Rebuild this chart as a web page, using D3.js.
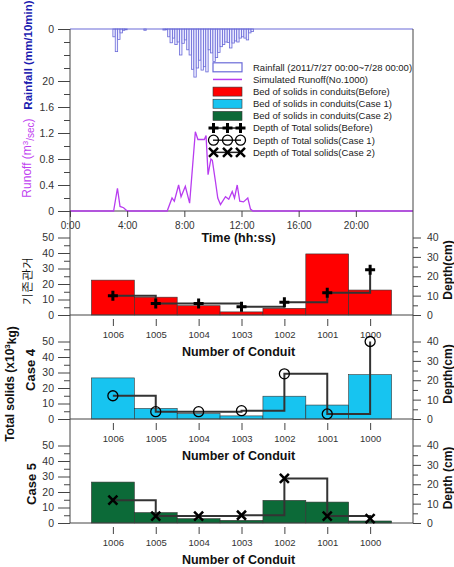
<!DOCTYPE html>
<html><head><meta charset="utf-8">
<script src="https://cdn.jsdelivr.net/npm/d3@7"></script>
<style>body{margin:0;background:#fff}svg{display:block}text{font-family:"Liberation Sans",Arial,sans-serif}</style>
</head><body><svg id="c" width="454" height="567"></svg>
<script>
// ---------- DATA ----------
const rainStartHour = 3; // first 10-min interval starts at 3:00
const rainfall = [3, 8.7, 4, 1.5, 0.5, 0.3, 0, 0, 0, 0, 0, 0, 0, 0.5, 0, 0, 0, 0, 0, 0, 0,
  0.4, 0.3, 3, 5.3, 3.5, 6, 5, 10, 5.5, 4.2, 8, 10, 15.5, 18.5, 15, 12, 15.8, 14.5, 16.5, 8, 9.2,
  12.5, 11, 9, 6.8, 6, 5, 5.2, 7.3, 5.4, 4.6, 5, 3.5, 3, 3.5, 4.2, 1.5, 1];
const runoffHours = [0, 3.05, 3.32, 3.5, 3.75, 4.0, 6.8, 7.14, 7.3, 7.6, 7.77, 8.07, 8.37, 8.77, 8.95, 9.4, 9.52,
  9.66, 9.86, 9.96, 10.18, 10.34, 10.53, 10.88, 11.11, 11.35, 11.51, 11.7, 11.88, 12.14, 12.44, 12.63, 12.8, 24];
const runoffValues = [0, 0, 0.35, 0.07, 0.05, 0, 0, 0.2, 0.15, 0.4, 0.22, 0.38, 0.12, 1.22, 1.1, 1.1, 1.16,
  0.56, 0.8, 0.78, 0.45, 0.2, 0.1, 0.22, 0.18, 0.3, 0.2, 0.4, 0.15, 0.14, 0.2, 0.03, 0, 0];
const timeTicks = [0, 4, 8, 12, 16, 20];
const timeTickLabels = ["0:00", "4:00", "8:00", "12:00", "16:00", "20:00"];

const categories = ["1006", "1005", "1004", "1003", "1002", "1001", "1000"];
const solidsBefore = [22.5, 11.5, 6, 2, 4.3, 39.4, 16.1];
const solidsCase4 = [26.5, 6.8, 3.5, 2, 14.7, 9, 28.6];
const solidsCase5 = [26.4, 6.7, 2.8, 1.7, 14.6, 13.5, 1.3];
const depthBefore = [10, 6, 6, 4.3, 6.6, 11.5, 23.3];
const depthCase4 = [12, 3.8, 3.8, 4.3, 23.3, 2.6, 40];
const depthCase5 = [11.8, 3.6, 3.6, 4, 23, 3.6, 2.3];

const legendLabels = ["Rainfall (2011/7/27 00:00~7/28 00:00)", "Simulated Runoff(No.1000)",
  "Bed of solids in conduits(Before)", "Bed of solids in conduits(Case 1)", "Bed of solids in conduits(Case 2)",
  "Depth of Total solids(Before)", "Depth of Total solids(Case 1)", "Depth of Total solids(Case 2)"];

// ---------- STYLE ----------
const AX = "#444";
const RAIN = "#6a6ad8", RUN = "#b83cf0";
const RED = "#ff0000", CYAN = "#17c4f0", GREEN = "#0c6a38";
const xL = 70, xR = 413;
const svg = d3.select("#c");
const FONT = '"Liberation Sans",Arial,sans-serif';

function styleAxis(g, size) {
  g.attr("font-family", FONT).attr("font-size", size).attr("color", AX);
  g.select(".domain").remove();
  g.selectAll("text").attr("fill", "#333");
}

// ---------- TOP CHART ----------
const xT = d3.scaleLinear([0, 24], [xL, xR]);
const yRain = d3.scaleLinear([0, 20], [29, 81]);
const yRun = d3.scaleLinear([0, 2], [211, 81]);

const rainData = rainfall.map((v, i) => ({ t: rainStartHour + i / 6, v })).filter(d => d.v > 0);
svg.append("g").selectAll("rect").data(rainData).join("rect")
  .attr("x", d => xT(d.t)).attr("width", xT(1 / 6) - xT(0))
  .attr("y", yRain(0)).attr("height", d => yRain(d.v) - yRain(0))
  .attr("fill", "#eeeeff").attr("stroke", RAIN).attr("stroke-width", 0.8);

// frame
svg.append("line").attr("x1", xL).attr("x2", xR).attr("y1", yRain(0)).attr("y2", yRain(0)).attr("stroke", RAIN).attr("stroke-width", 1.2);
svg.append("line").attr("x1", xL).attr("x2", xR).attr("y1", yRun(0)).attr("y2", yRun(0)).attr("stroke", AX);

// runoff line
const runData = runoffHours.map((h, i) => [h, runoffValues[i]]);
svg.append("path").datum(runData)
  .attr("d", d3.line().x(d => xT(d[0])).y(d => yRun(d[1])))
  .attr("fill", "none").attr("stroke", RUN).attr("stroke-width", 1.3);

// axes top
svg.append("g").attr("transform", `translate(${xL},0)`)
  .call(d3.axisLeft(yRain).tickValues([0, 20]).tickSize(12).tickPadding(4).tickFormat(d3.format("d")))
  .call(g => styleAxis(g, 10.5));
svg.append("g").attr("transform", `translate(${xL},0)`)
  .call(d3.axisLeft(yRain).tickValues([5, 10, 15]).tickSize(6).tickFormat(""))
  .call(g => styleAxis(g, 10.5));
svg.append("g").attr("transform", `translate(${xL},0)`)
  .call(d3.axisLeft(yRun).tickValues([0, 0.4, 0.8, 1.2, 1.6]).tickSize(12).tickPadding(4).tickFormat(d => d === 0 ? "0" : d3.format(".1f")(d)))
  .call(g => styleAxis(g, 10.5));
svg.append("g").attr("transform", `translate(${xL},0)`)
  .call(d3.axisLeft(yRun).tickValues([0.2, 0.6, 1.0, 1.4, 1.8]).tickSize(6).tickFormat(""))
  .call(g => styleAxis(g, 10.5));
svg.append("g").attr("transform", `translate(0,${yRun(0)})`)
  .call(d3.axisBottom(xT).tickValues(timeTicks).tickSize(6).tickPadding(5).tickFormat((d, i) => timeTickLabels[i]))
  .call(g => styleAxis(g, 10));

svg.append("text").attr("x", (xL + xR) / 2 - 3).attr("y", 238).attr("dy", "0.35em").attr("text-anchor", "middle")
  .attr("font-weight", "bold").attr("font-size", 12.5).attr("fill", "#111").text("Time (hh:ss)");

// titles top
svg.append("text").attr("transform", "translate(28,55) rotate(-90)").attr("text-anchor", "middle").attr("dy", "0.35em")
  .attr("font-weight", "bold").attr("font-size", 11.5).attr("fill", "#1c1cb0").text("Rainfall (mm/10min)");
const rt = svg.append("text").attr("transform", "translate(27,158) rotate(-90)").attr("text-anchor", "middle").attr("dy", "0.35em")
  .attr("font-size", 12).attr("fill", "#c040f0");
rt.append("tspan").text("Runoff (m");
rt.append("tspan").attr("font-size", 8).attr("dy", "-0.45em").text("3");
rt.append("tspan").attr("font-size", 10).attr("dy", "0.6em").text("/sec");
rt.append("tspan").attr("dy", "-0.15em").text(")");

// ---------- MARKERS ----------
function drawMarker(g, type, x, y) {
  if (type === "plus") {
    g.append("path").attr("d", `M${x - 5},${y}H${x + 5}M${x},${y - 5}V${y + 5}`).attr("stroke", "#000").attr("stroke-width", 3);
  } else if (type === "circle") {
    g.append("circle").attr("cx", x).attr("cy", y).attr("r", 5).attr("fill", "none").attr("stroke", "#000").attr("stroke-width", 1.3);
  } else {
    g.append("path").attr("d", `M${x - 4.5},${y - 4.5}L${x + 4.5},${y + 4.5}M${x - 4.5},${y + 4.5}L${x + 4.5},${y - 4.5}`).attr("stroke", "#000").attr("stroke-width", 2.5);
  }
}

// ---------- LEGEND ----------
const lg = svg.append("g");
const lx0 = 213, lx1 = 242, ltx = 253, ly0 = 67.3, lstep = 12.15;
legendLabels.forEach((t, i) => {
  const y = ly0 + i * lstep;
  if (i === 0) lg.append("rect").attr("x", lx0).attr("y", y - 4.5).attr("width", lx1 - lx0).attr("height", 9).attr("fill", "#fff").attr("stroke", RAIN).attr("stroke-width", 1.2);
  else if (i === 1) lg.append("line").attr("x1", lx0).attr("x2", lx1).attr("y1", y).attr("y2", y).attr("stroke", RUN).attr("stroke-width", 1.5);
  else if (i <= 4) lg.append("rect").attr("x", lx0).attr("y", y - 4.5).attr("width", lx1 - lx0).attr("height", 9)
    .attr("fill", [RED, CYAN, GREEN][i - 2]).attr("stroke", "#333").attr("stroke-width", 0.6);
  else {
    lg.append("line").attr("x1", lx0).attr("x2", lx1 - 1).attr("y1", y).attr("y2", y).attr("stroke", "#222").attr("stroke-width", 1.5);
    [lx0 + 0.5, (lx0 + lx1) / 2, lx1 - 1.5].forEach(mx => drawMarker(lg, ["plus", "circle", "cross"][i - 5], mx, y));
  }
  lg.append("text").attr("x", ltx).attr("y", y).attr("dy", "0.35em").attr("font-size", 9.5).attr("fill", "#222").text(t);
});

// ---------- PANELS ----------
const xC = d3.scalePoint(categories, [xL, xR]).padding(1);
const step = xC.step();
const panels = [
  { y0: 315, solids: solidsBefore, depth: depthBefore, color: RED, marker: "plus", dlabel: "Depth(cm)" },
  { y0: 419, solids: solidsCase4, depth: depthCase4, color: CYAN, marker: "circle", dlabel: "Depth(cm)" },
  { y0: 523, solids: solidsCase5, depth: depthCase5, color: GREEN, marker: "cross", dlabel: "Depth (cm)" }
];
const PH = 77.5;
panels.forEach(p => {
  const g = svg.append("g");
  const yS = d3.scaleLinear([0, 50], [p.y0, p.y0 - PH]);
  const yD = d3.scaleLinear([0, 40], [p.y0, p.y0 - PH]);
  g.selectAll("rect").data(p.solids).join("rect")
    .attr("x", (d, i) => xC(categories[i]) - step / 2).attr("width", step)
    .attr("y", d => yS(d)).attr("height", d => yS(0) - yS(d))
    .attr("fill", p.color).attr("stroke", "#333").attr("stroke-width", 0.6);
  g.append("line").attr("x1", xL).attr("x2", xR).attr("y1", p.y0).attr("y2", p.y0).attr("stroke", AX);
  g.append("g").attr("transform", `translate(${xL},0)`)
    .call(d3.axisLeft(yS).tickValues([0, 10, 20, 30, 40, 50]).tickSize(12).tickPadding(4))
    .call(a => styleAxis(a, 10.5));
  g.append("g").attr("transform", `translate(${xL},0)`)
    .call(d3.axisLeft(yS).tickValues([5, 15, 25, 35, 45]).tickSize(6).tickFormat(""))
    .call(a => styleAxis(a, 10.5));
  g.append("g").attr("transform", `translate(${xR},0)`)
    .call(d3.axisRight(yD).tickValues([0, 10, 20, 30, 40]).tickSize(8).tickPadding(6))
    .call(a => styleAxis(a, 10.5));
  g.append("g").attr("transform", `translate(${xR},0)`)
    .call(d3.axisRight(yD).tickValues([5, 15, 25, 35]).tickSize(5).tickFormat(""))
    .call(a => styleAxis(a, 10.5));
  g.append("g").attr("transform", `translate(0,${p.y0 + 4})`)
    .call(d3.axisBottom(xC).tickSize(7).tickPadding(5.5))
    .call(a => styleAxis(a, 9.5));
  // depth step line
  const dd = p.depth.map((v, i) => [xC(categories[i]), yD(v)]);
  g.append("path").datum(dd).attr("d", d3.line().curve(d3.curveStepAfter))
    .attr("fill", "none").attr("stroke", "#333").attr("stroke-width", 2);
  dd.forEach(d => drawMarker(g, p.marker, d[0], d[1]));
  g.append("text").attr("x", (xL + xR) / 2 - 3).attr("y", p.y0 + 37).attr("dy", "0.35em").attr("text-anchor", "middle")
    .attr("font-weight", "bold").attr("font-size", 12.5).attr("fill", "#111").text("Number of Conduit");
  g.append("text").attr("transform", `translate(448,${p.y0 - 45}) rotate(-90)`).attr("text-anchor", "middle").attr("dy", "0.35em")
    .attr("font-weight", "bold").attr("font-size", 12).attr("fill", "#111").text(p.dlabel);
});

// axis lines spanning all
svg.append("line").attr("x1", xL).attr("x2", xL).attr("y1", 29).attr("y2", 523).attr("stroke", AX);
svg.append("line").attr("x1", xR).attr("x2", xR).attr("y1", 29).attr("y2", 523).attr("stroke", AX);

// left titles
svg.append("text").attr("transform", "translate(27,281) rotate(-90)").attr("text-anchor", "middle").attr("dy", "0.35em")
  .attr("font-family", '"Noto Sans CJK KR",sans-serif').attr("font-size", 11.5).attr("fill", "#111").text("기존관거");
const ts = svg.append("text").attr("transform", "translate(10,384) rotate(-90)").attr("text-anchor", "middle").attr("dy", "0.35em")
  .attr("font-weight", "bold").attr("font-size", 12).attr("fill", "#111");
ts.append("tspan").text("Total solids (x10");
ts.append("tspan").attr("font-size", 8).attr("dy", "-0.5em").text("3");
ts.append("tspan").attr("dy", "0.5em").text("kg)");
svg.append("text").attr("transform", "translate(30,370) rotate(-90)").attr("text-anchor", "middle").attr("dy", "0.35em")
  .attr("font-weight", "bold").attr("font-size", 13).attr("fill", "#111").text("Case 4");
svg.append("text").attr("transform", "translate(31,484) rotate(-90)").attr("text-anchor", "middle").attr("dy", "0.35em")
  .attr("font-weight", "bold").attr("font-size", 13).attr("fill", "#111").text("Case 5");
</script></body></html>
